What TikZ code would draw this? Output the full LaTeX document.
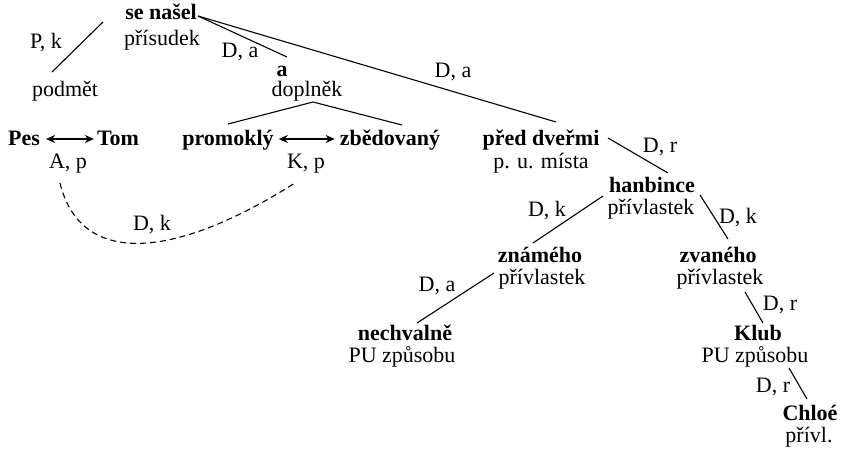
\documentclass[tikz,border=0pt]{standalone}
\usepackage{fontspec}
\setmainfont{Liberation Serif}
\usetikzlibrary{arrows.meta,calc}
\begin{document}
\begin{tikzpicture}[x=1pt,y=-1pt,
  w/.style={anchor=base,inner sep=0pt,font=\fontsize{22}{26}\selectfont\bfseries},
  r/.style={anchor=base,inner sep=0pt,font=\fontsize{22}{26}\selectfont},
  lbl/.style={anchor=base,inner sep=0pt,font=\fontsize{22}{26}\selectfont},
  edge/.style={line width=1.1pt},
  dashedge/.style={line width=1.1pt,dash pattern=on 6pt off 4pt},
  dbl/.style={line width=1.1pt,{Stealth[length=9pt,width=8pt]}-{Stealth[length=9pt,width=8pt]}}]
\useasboundingbox (0,0) rectangle (842,450);
% words
\node[w] (senasel) at (161,19) {se našel};
\node[r] (prisudek) at (162,45) {přísudek};
\node[lbl] (pk) at (46,48) {P, k};
\node[r] (podmet) at (65,96) {podmět};
\node[lbl] (da1) at (240,57) {D, a};
\node[w] (a) at (282,76) {a};
\node[r] (doplnek) at (307,96) {doplněk};
\node[lbl] (da2) at (453,77) {D, a};
\node[w] (pes) at (24,145) {Pes};
\node[w] (tom) at (118,145) {Tom};
\node[lbl] (ap) at (68,168) {A, p};
\node[w] (promokly) at (228,145) {promoklý};
\node[w] (zbedovany) at (390,145) {zbědovaný};
\node[lbl] (kp) at (306,168) {K, p};
\node[w] (pred) at (541,145) {před dveřmi};
\node[r] (misto) at (541,168) {p. u. místa};
\node[lbl] (dr1) at (660,152) {D, r};
\node[w] (hanbince) at (652,192) {hanbince};
\node[r] (pr1) at (651,214) {přívlastek};
\node[lbl] (dk1) at (547,216) {D, k};
\node[lbl] (dk2) at (738,223) {D, k};
\node[lbl] (dk3) at (152,230) {D, k};
\node[w] (znameho) at (540,262) {známého};
\node[r] (pr2) at (542,284) {přívlastek};
\node[w] (zvaneho) at (718,262) {zvaného};
\node[r] (pr3) at (720,284) {přívlastek};
\node[lbl] (da3) at (437,291) {D, a};
\node[lbl] (dr2) at (780,310) {D, r};
\node[w] (nechvalne) at (405,340) {nechvalně};
\node[r] (pu1) at (402,362) {PU způsobu};
\node[w] (klub) at (758,340) {Klub};
\node[r] (pu2) at (755,362) {PU způsobu};
\node[lbl] (dr3) at (773,392) {D, r};
\node[w] (chloe) at (810,420) {Chloé};
\node[r] (privl) at (809,442) {přívl.};
% connector ends
\coordinate (s0) at (198,16);
\coordinate (pk0) at (103,22);
\coordinate (pk1) at (52,72);
\coordinate (a0) at (287,57);
\coordinate (pd0) at (556,122);
\coordinate (wl) at (228,124);
\coordinate (wa) at (313,102);
\coordinate (wr) at (402,125);
\coordinate (pd1) at (608,138);
\coordinate (hb0) at (668,173);
\coordinate (hb1) at (603,196);
\coordinate (zn0) at (533,243);
\coordinate (hb2) at (700,195);
\coordinate (zv0) at (728,239);
\coordinate (zn1) at (494,273);
\coordinate (ne0) at (417,323);
\coordinate (zv1) at (745,292);
\coordinate (kl0) at (763,323);
\coordinate (kl1) at (789,368);
\coordinate (ch0) at (807,399);
\coordinate (ap0) at (60,183);
\coordinate (kp0) at (295,183);
% connectors
\draw[edge] (pk0) -- (pk1);
\draw[edge] (s0) -- (a0);
\draw[edge] (s0) -- (pd0);
\draw[edge] (wl) -- (wa) -- (wr);
\draw[edge] (pd1) -- (hb0);
\draw[edge] (hb1) -- (zn0);
\draw[edge] (hb2) -- (zv0);
\draw[edge] (zn1) -- (ne0);
\draw[edge] (zv1) -- (kl0);
\draw[edge] (kl1) -- (ch0);
\draw[dbl] ($(pes.base east)+(6,-6)$) -- ($(tom.base west)+(-3,-6)$);
\draw[dbl] ($(promokly.base east)+(5,-6)$) -- ($(zbedovany.base west)+(-5,-6)$);
\draw[dashedge] (ap0) .. controls (80,265) and (170,262) .. (kp0);
\end{tikzpicture}
\end{document}
